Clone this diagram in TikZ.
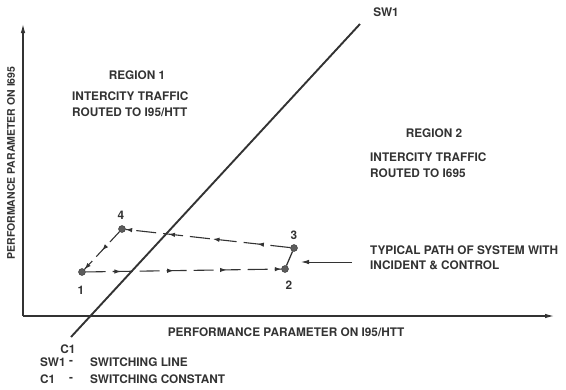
\documentclass[tikz,border=0pt]{standalone}
\usepackage{fontspec}
\setmainfont{TeX Gyre Heros}
\usetikzlibrary{arrows.meta,decorations.markings}
\definecolor{ink}{HTML}{333333}
\tikzset{
  lbl/.style={text=ink,font=\bfseries\fontsize{11.8}{15.5}\selectfont,inner sep=0pt},
  lblL/.style={lbl,anchor=west,align=left},
  pt/.style={circle,fill=ink!80,draw=ink,inner sep=0pt,minimum size=7pt},
  axis/.style={draw=ink,line width=1.1pt,-{Latex[length=9pt,width=4.5pt]}},
  pathline/.style={draw=ink,line width=1.1pt,dash pattern=on 20pt off 7pt},
  mytip/.tip={Latex[length=6.5pt,width=4.5pt]},
}
\begin{document}
\begin{tikzpicture}[x=1pt,y=1pt]
\useasboundingbox (0,-389) rectangle (566,0);
% axes
\coordinate (O) at (23,-316);
\coordinate (Ytop) at (23,-24);
\coordinate (Xend) at (554,-316);
\draw[axis] (O) -- (Ytop);
\draw[axis] (O) -- (Xend);
% switching line
\coordinate (swA) at (71,-337);
\coordinate (swB) at (360,-24);
\draw[ink,line width=1.9pt] (swA) -- (swB);
\node[lbl] (sw1) at (386,-12) {SW1};
\node[lbl] (c1) at (68,-349) {C1};
% points
\node[pt] (p1) at (82,-272) {};
\node[pt] (p2) at (285,-269) {};
\node[pt] (p3) at (294,-248) {};
\node[pt] (p4) at (122,-229) {};
\node[lbl] (n1) at (81,-290) {1};
\node[lbl] (n2) at (289,-285) {2};
\node[lbl] (n3) at (294,-235) {3};
\node[lbl] (n4) at (121,-215) {4};
% paths
\draw[pathline,postaction={decorate},decoration={markings,
  mark=at position 0.18 with {\arrow{mytip}},
  mark=at position 0.45 with {\arrow{mytip}},
  mark=at position 0.72 with {\arrow{mytip}},
  mark=at position 1 with {\arrow{mytip}}}]
  (p1) -- (p2);
\draw[ink,line width=1.3pt] (p2) -- (p3);
\draw[pathline,postaction={decorate},decoration={markings,
  mark=at position 0.2 with {\arrow{mytip}},
  mark=at position 0.47 with {\arrow{mytip}},
  mark=at position 0.74 with {\arrow{mytip}},
  mark=at position 1 with {\arrow{mytip}}}]
  (p3) -- (p4);
\draw[draw=ink,line width=1.1pt,dash pattern=on 14pt off 6pt,postaction={decorate},decoration={markings,
  mark=at position 0.5 with {\arrow{mytip}},
  mark=at position 1 with {\arrow{mytip}}}]
  (p4) -- (p1);
% pointer arrow
\coordinate (pa) at (352,-262);
\draw[ink,line width=1pt,-{Latex[length=8pt,width=4.5pt]}] (pa) -- (301,-262);
% texts
\node[lbl] (r1) at (137,-75) {REGION 1};
\node[lblL] (r1t) at (72,-104) {INTERCITY TRAFFIC\\ROUTED TO I95/HTT};
\node[lbl] (r2) at (434,-133) {REGION 2};
\node[lblL] (r2t) at (370,-165) {INTERCITY TRAFFIC\\ROUTED TO I695};
\node[lblL] (typ) at (370,-258) {TYPICAL PATH OF SYSTEM WITH\\INCIDENT \& CONTROL};
\node[lbl] (xl) at (286,-332) {PERFORMANCE PARAMETER ON I95/HTT};
\node[lbl,rotate=90,font=\bfseries\fontsize{10.5}{12}\selectfont] (yl) at (11,-163) {PERFORMANCE PARAMETER ON I695};
\node[lblL] (lg1a) at (40,-362) {SW1};
\node[lbl] (lg1b) at (71,-362) {-};
\node[lblL] (lg1c) at (90,-362) {SWITCHING LINE};
\node[lblL] (lg2a) at (40,-379) {C1};
\node[lbl] (lg2b) at (71,-379) {-};
\node[lblL] (lg2c) at (90,-379) {SWITCHING CONSTANT};
\end{tikzpicture}
\end{document}
